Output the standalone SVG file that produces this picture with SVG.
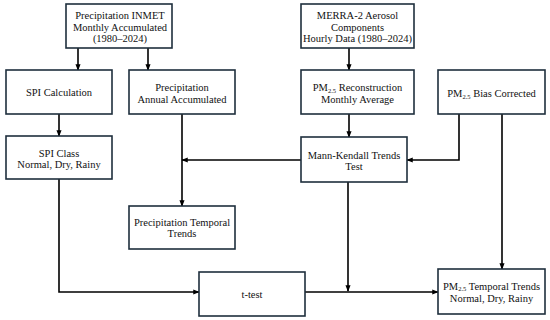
<svg xmlns="http://www.w3.org/2000/svg" width="550" height="320" viewBox="0 0 550 320">
<defs>
<marker id="ah" viewBox="0 0 10 10" refX="9" refY="5" markerWidth="4" markerHeight="4" orient="auto" markerUnits="strokeWidth">
<path d="M0,1 L10,5 L0,9 z" fill="#000"/>
</marker>
</defs>
<style>
.box{fill:#fff;stroke:#1e2f3d;stroke-width:1.6}
.t{font-family:"Liberation Serif","Times New Roman",serif;font-size:10.5px;fill:#111;text-anchor:middle}
.s{font-size:6.5px}
.c{fill:none;stroke:#000;stroke-width:1.6;marker-end:url(#ah)}
.l{fill:none;stroke:#000;stroke-width:1.6}
</style>
<rect width="550" height="320" fill="#fff"/>
<g id="connectors">
<path class="c" d="M78,48 V70"/>
<path class="c" d="M148,48 V70"/>
<path class="c" d="M59,114 V136"/>
<path class="c" d="M182,114 V206"/>
<path class="c" d="M301,160 H182"/>
<path class="c" d="M349,48 V70"/>
<path class="c" d="M349,114 V137"/>
<path class="c" d="M459,114 V160 H407"/>
<path class="c" d="M502,114 V269"/>
<path class="c" d="M348,182 V291"/>
<path class="c" d="M59,179 V292 H199"/>
<path class="c" d="M305,292 H438"/>
</g>
<g id="inmet"><rect class="box" x="66" y="4" width="106" height="44"/>
<text class="t" x="120" y="19">Precipitation INMET</text>
<text class="t" x="120" y="30.5">Monthly Accumulated</text>
<text class="t" x="120" y="42">(1980–2024)</text></g>
<g id="merra"><rect class="box" x="301" y="4" width="113" height="44"/>
<text class="t" x="357.5" y="19">MERRA-2 Aerosol</text>
<text class="t" x="357.5" y="30.5">Components</text>
<text class="t" x="357.5" y="42">Hourly Data (1980–2024)</text></g>
<g id="spicalc"><rect class="box" x="6" y="70" width="106" height="44"/>
<text class="t" x="59" y="96">SPI Calculation</text></g>
<g id="annual"><rect class="box" x="129" y="70" width="106" height="44"/>
<text class="t" x="182" y="91">Precipitation</text>
<text class="t" x="182" y="102.5">Annual Accumulated</text></g>
<g id="recon"><rect class="box" x="301" y="70" width="113" height="44"/>
<text class="t" x="357.5" y="91">PM<tspan class="s" dy="1.5">2.5</tspan><tspan dy="-1.5"> Reconstruction</tspan></text>
<text class="t" x="357.5" y="103">Monthly Average</text></g>
<g id="bias"><rect class="box" x="438" y="70" width="107" height="44"/>
<text class="t" x="491.5" y="97">PM<tspan class="s" dy="1.5">2.5</tspan><tspan dy="-1.5"> Bias Corrected</tspan></text></g>
<g id="spiclass"><rect class="box" x="6" y="136" width="106" height="43"/>
<text class="t" x="59" y="156.5">SPI Class</text>
<text class="t" x="59" y="167.5">Normal, Dry, Rainy</text></g>
<g id="mk"><rect class="box" x="301" y="137" width="106" height="45"/>
<text class="t" x="354" y="158.5">Mann-Kendall Trends</text>
<text class="t" x="354" y="169.5">Test</text></g>
<g id="ptrends"><rect class="box" x="129" y="206" width="106" height="43"/>
<text class="t" x="182" y="225.5">Precipitation Temporal</text>
<text class="t" x="182" y="236.5">Trends</text></g>
<g id="ttest"><rect class="box" x="199" y="272" width="106" height="44"/>
<text class="t" x="252" y="297.5">t-test</text></g>
<g id="pmtrends"><rect class="box" x="438" y="269" width="107" height="45"/>
<text class="t" x="491.5" y="289.5">PM<tspan class="s" dy="1.5">2.5</tspan><tspan dy="-1.5"> Temporal Trends</tspan></text>
<text class="t" x="491.5" y="301.5">Normal, Dry, Rainy</text></g>
</svg>
